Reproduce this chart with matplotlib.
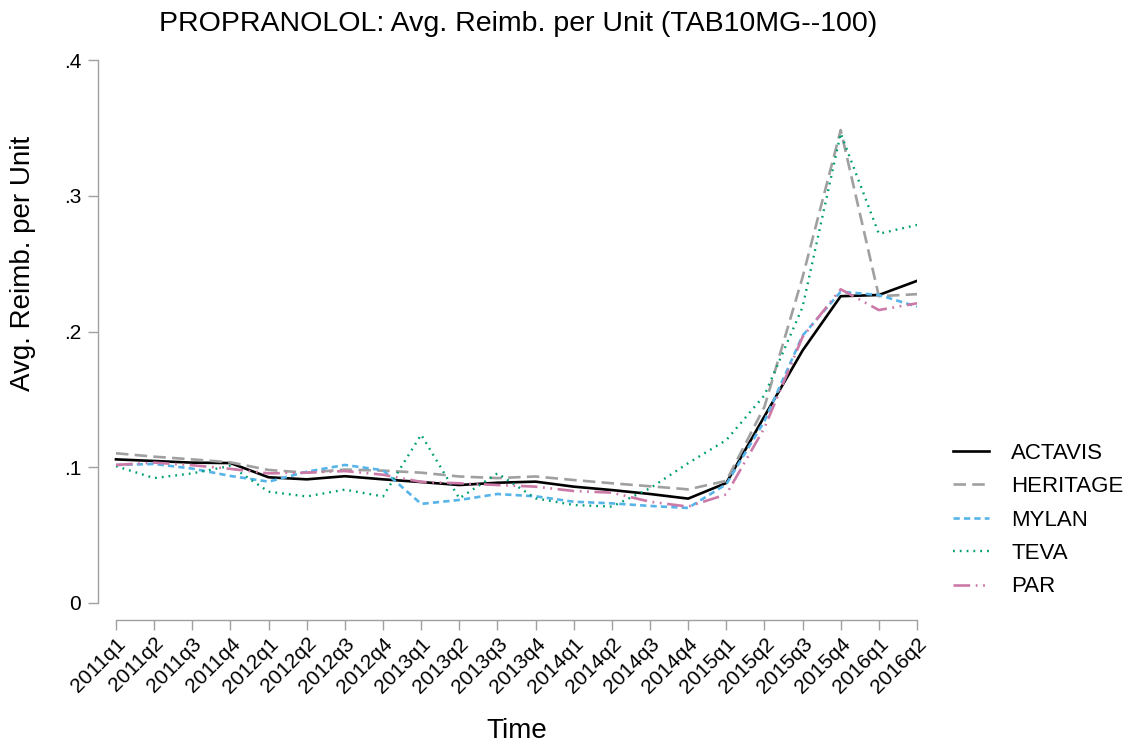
import matplotlib
matplotlib.use("Agg")
import matplotlib.pyplot as plt
import numpy as np

plt.rcParams['font.family'] = ['Liberation Sans', 'DejaVu Sans']
plt.rcParams['lines.scale_dashes'] = False

quarters = ['2011q1', '2011q2', '2011q3', '2011q4', '2012q1', '2012q2', '2012q3', '2012q4',
            '2013q1', '2013q2', '2013q3', '2013q4', '2014q1', '2014q2', '2014q3', '2014q4',
            '2015q1', '2015q2', '2015q3', '2015q4', '2016q1', '2016q2']

actavis = [0.1058, 0.1046, 0.1034, 0.1031, 0.0926, 0.0911, 0.0934, 0.0911, 0.0891, 0.0869, 0.0886,
           0.0894, 0.0857, 0.0832, 0.0803, 0.0769, 0.0884, 0.1375, 0.1860, 0.2260, 0.2269, 0.2373]
heritage = [0.1103, 0.1078, 0.1058, 0.1036, 0.0980, 0.0960, 0.0983, 0.0975, 0.0960, 0.0932, 0.0920,
            0.0932, 0.0906, 0.0882, 0.0860, 0.0837, 0.0900, 0.1445, 0.2400, 0.3484, 0.2260, 0.2275]
mylan = [0.1017, 0.1024, 0.0990, 0.0936, 0.0894, 0.0967, 0.1017, 0.0978, 0.0730, 0.0759, 0.0803,
         0.0786, 0.0746, 0.0734, 0.0715, 0.0700, 0.0875, 0.1340, 0.1970, 0.2293, 0.2269, 0.2183]
teva = [0.1008, 0.0920, 0.0955, 0.1010, 0.0820, 0.0785, 0.0835, 0.0785, 0.1240, 0.0771, 0.0955,
        0.0771, 0.0722, 0.0710, 0.0845, 0.1030, 0.1200, 0.1530, 0.2180, 0.3460, 0.2720, 0.2785]
par = [0.1017, 0.1034, 0.1015, 0.0988, 0.0955, 0.0960, 0.0972, 0.0945, 0.0892, 0.0882, 0.0869,
       0.0857, 0.0825, 0.0813, 0.0746, 0.0710, 0.0800, 0.1290, 0.1960, 0.2311, 0.2158, 0.2208]

series_names = ['ACTAVIS', 'HERITAGE', 'MYLAN', 'TEVA', 'PAR']
series_values = [actavis, heritage, mylan, teva, par]
colors = ['#000000', '#a0a0a0', '#56b4e9', '#009e73', '#cc79a7']
styles = ['-', (0, (9, 4.5)), (0, (4.5, 3)), (0, (1.3, 3.6)), (0, (12, 4, 1.3, 4, 1.3, 4))]
widths = [1.9, 1.9, 1.9, 1.7, 1.9]

yticks = [0, 0.1, 0.2, 0.3, 0.4]
yticklabels = ['0', '.1', '.2', '.3', '.4']

W, H = 1130, 748
fig = plt.figure(figsize=(W / 100, H / 100), dpi=100)
ax_l, ax_r, ax_t, ax_b = 98, 917, 60, 620
ax = fig.add_axes([ax_l / W, 1 - ax_b / H, (ax_r - ax_l) / W, (ax_b - ax_t) / H])

x = np.arange(len(quarters))
for name, vals, c, ls, lw in zip(series_names, series_values, colors, styles, widths):
    ax.plot(x, vals, color=c, linestyle=ls, linewidth=lw, label=name)

# x range: 2011q1 at px 116, 2016q2 at px 917
step = (917 - 116) / (len(quarters) - 1)
ax.set_xlim(-(116 - ax_l) / step, len(quarters) - 1)
ppu = (603 - 60) / 0.4
ax.set_ylim(-(ax_b - 603) / ppu, 0.4)

for s in ['top', 'right']:
    ax.spines[s].set_visible(False)
ax.spines['left'].set_bounds(0, 0.4)
ax.spines['bottom'].set_bounds(0, len(quarters) - 1)
for s in ['left', 'bottom']:
    ax.spines[s].set_color('#a0a0a0')
    ax.spines[s].set_linewidth(1.0)

ax.set_yticks(yticks)
ax.set_yticklabels(yticklabels, fontsize=15)
ax.set_xticks(x)
ax.set_xticklabels(quarters, fontsize=15, rotation=45, ha='right', rotation_mode='anchor')
ax.tick_params(axis='both', color='#a0a0a0', length=7, width=1.0, direction='out')
ax.tick_params(axis='y', pad=5)
ax.tick_params(axis='x', pad=3)

ax.set_ylabel('Avg. Reimb. per Unit', fontsize=20)
ax.yaxis.set_label_coords((36 - ax_l) / (ax_r - ax_l), (ax_b - 263) / (ax_b - ax_t))
ax.set_xlabel('Time', fontsize=20, va='top')
ax.xaxis.set_label_coords((517 - ax_l) / (ax_r - ax_l), (ax_b - 718) / (ax_b - ax_t))

fig.text(518 / W, 1 - 31 / H, 'PROPRANOLOL: Avg. Reimb. per Unit (TAB10MG--100)',
         fontsize=20.5, ha='center', va='baseline')

fig.legend(loc='center left', bbox_to_anchor=(953 / W, 1 - 520 / H), frameon=False,
           fontsize=16, handlelength=1.62, handletextpad=1.0, labelspacing=0.56,
           borderpad=0, borderaxespad=0)

fig.savefig('out.png', dpi=100)
